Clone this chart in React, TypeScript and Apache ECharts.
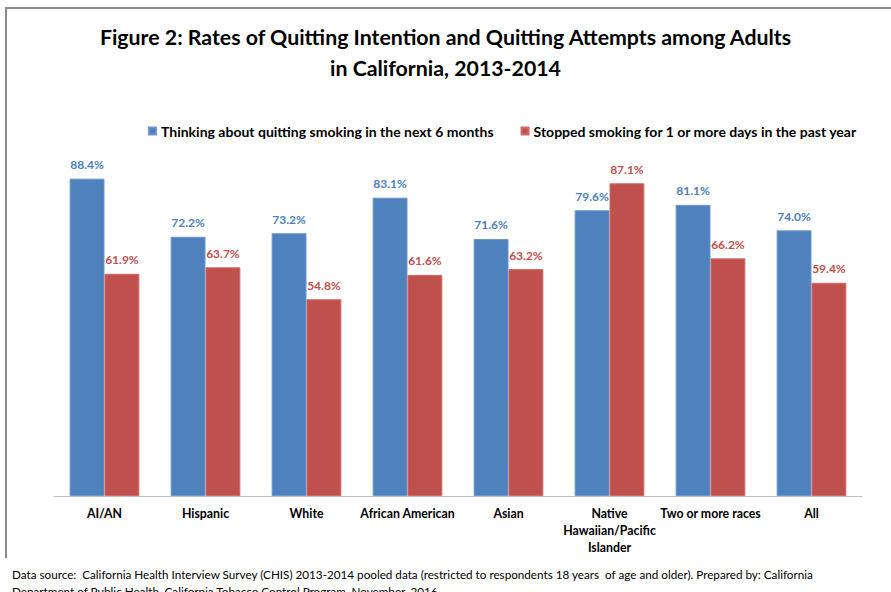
import React, { useEffect, useRef } from "react";
import * as echarts from "echarts";

const categories = [
  "AI/AN",
  "Hispanic",
  "White",
  "African American",
  "Asian",
  "Native\nHawaiian/Pacific\nIslander",
  "Two or more races",
  "All",
];
const thinkingValues = [88.4, 72.2, 73.2, 83.1, 71.6, 79.6, 81.1, 74.0];
const stoppedValues = [61.9, 63.7, 54.8, 61.6, 63.2, 87.1, 66.2, 59.4];
const seriesNames = [
  "Thinking about quitting smoking in the next 6 months",
  "Stopped smoking for 1 or more days in the past year",
];
const titleLines = [
  "Figure 2: Rates of Quitting Intention and Quitting Attempts among Adults",
  "in California, 2013-2014",
];
const footnoteLines = [
  "Data source:  California Health Interview Survey (CHIS) 2013-2014 pooled data (restricted to respondents 18 years  of age and older). Prepared by: California",
  "Department of Public Health, California Tobacco Control Program, November, 2016",
];

const FONT = "Lato, 'Open Sans', sans-serif";
const BLUE = "#4F81BD";
const RED = "#C0504D";

export default function App() {
  const ref = useRef<HTMLDivElement>(null);
  useEffect(() => {
    if (!ref.current) return;
    const chart = echarts.init(ref.current, undefined, { renderer: "svg" });
    const labelFor = (color: string) => ({
      show: true,
      position: "top" as const,
      distance: 8,
      color,
      fontFamily: FONT,
      fontWeight: "bold" as const,
      fontSize: 12,
      formatter: (p: any) => Number(p.value).toFixed(1) + "%",
    });
    chart.setOption({
      animation: false,
      backgroundColor: "#fff",
      title: {
        text: titleLines.join("\n"),
        left: "center",
        top: 16,
        textStyle: {
          fontFamily: FONT,
          fontWeight: "bold",
          fontSize: 21.3,
          lineHeight: 31,
          color: "#000",
        },
      },
      legend: {
        top: 119,
        left: 143,
        width: 780,
        itemWidth: 7,
        itemHeight: 7,
        itemGap: 27,
        icon: "rect",
        textStyle: {
          fontFamily: FONT,
          fontWeight: "bold",
          fontSize: 14,
          color: "#000",
        },
        data: seriesNames,
      },
      grid: { left: 54, right: 29, top: 137, bottom: 96, containLabel: false },
      xAxis: {
        type: "category",
        data: categories,
        axisLine: { show: true, lineStyle: { color: "#bfbfbf", width: 1 } },
        axisTick: { show: false },
        axisLabel: {
          interval: 0,
          margin: 9,
          fontFamily: FONT,
          fontWeight: "bold",
          fontSize: 12.3,
          lineHeight: 17,
          color: "#000",
        },
      },
      yAxis: {
        type: "value",
        min: 0,
        max: 100,
        show: false,
        splitLine: { show: false },
      },
      series: [
        {
          name: seriesNames[0],
          type: "bar",
          data: thinkingValues,
          barGap: "0%",
          barCategoryGap: "31%",
          itemStyle: { color: BLUE, borderColor: "#6b97cc", borderWidth: 1 },
          label: labelFor(BLUE),
        },
        {
          name: seriesNames[1],
          type: "bar",
          data: stoppedValues,
          barGap: "0%",
          barCategoryGap: "31%",
          itemStyle: { color: RED, borderColor: "#d06a67", borderWidth: 1 },
          label: labelFor(RED),
        },
      ],
      graphic: [
        {
          type: "line",
          shape: { x1: 5, y1: 8, x2: 891, y2: 8 },
          style: { stroke: "#8c8c8c", lineWidth: 2 },
        },
        {
          type: "line",
          shape: { x1: 6, y1: 8, x2: 6, y2: 558 },
          style: { stroke: "#8c8c8c", lineWidth: 2 },
        },
        {
          type: "text",
          left: 12,
          top: 565,
          style: {
            text: footnoteLines.join("\n"),
            fontFamily: FONT,
            fontSize: 11.7,
            lineHeight: 17,
            fill: "#000",
          },
        },
      ],
    });
    return () => chart.dispose();
  }, []);
  return (
    <div
      ref={ref}
      style={{ position: "fixed", left: 0, top: 0, width: 891, height: 592 }}
    />
  );
}
